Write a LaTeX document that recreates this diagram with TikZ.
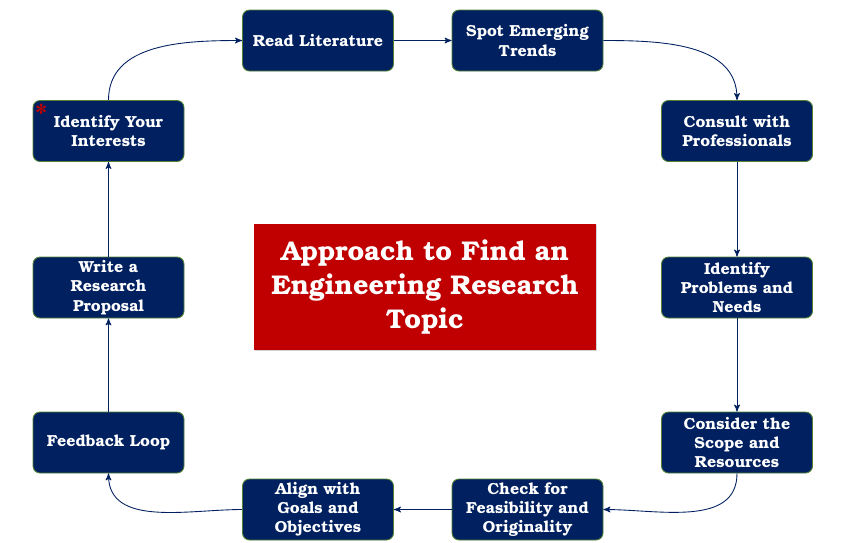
\documentclass[tikz,border=0pt]{standalone}
\usepackage{fontspec}
\setmainfont{texgyrebonum}[Extension=.otf,UprightFont=*-regular,BoldFont=*-bold]
\usepackage{xcolor}
\usetikzlibrary{arrows,positioning,shadows}

\definecolor{navy}{HTML}{002060}
\definecolor{edgegreen}{HTML}{548235}
\definecolor{titlered}{HTML}{C00000}

\tikzset{
  >=stealth',
  stepbox/.style={draw=edgegreen, line width=0.5pt, fill=navy, rounded corners=0.14cm,
    minimum width=3.02cm, minimum height=1.22cm, align=center, text=white,
    font=\fontsize{9.1}{10.9}\selectfont\bfseries, inner sep=1pt},
  link/.style={->, draw=navy, line width=0.5pt}
}

\begin{document}
\begin{tikzpicture}
\useasboundingbox (0,0) rectangle (17,-10.84);
% title
\node [fill=titlered, minimum width=6.84cm, minimum height=2.52cm, align=center, text=white,
  font=\fontsize{15.4}{19.6}\selectfont\bfseries,
  drop shadow={opacity=0.35, shadow xshift=0.5pt, shadow yshift=-0.8pt}]
  (title) at (8.5,-5.74) {Approach to Find an\\Engineering Research\\Topic};

% steps
\node [stepbox] (interests) at (2.17,-2.62) {Identify Your\\Interests};
\node [stepbox] (literature) at (6.36,-0.81) {Read Literature};
\node [stepbox] (trends) at (10.55,-0.81) {Spot Emerging\\Trends};
\node [stepbox] (consult) at (14.74,-2.62) {Consult with\\Professionals};
\node [stepbox] (problems) at (14.74,-5.75) {Identify\\Problems and\\Needs};
\node [stepbox] (scope) at (14.74,-8.85) {Consider the\\Scope and\\Resources};
\node [stepbox] (check) at (10.55,-10.19) {Check for\\Feasibility and\\Originality};
\node [stepbox] (align) at (6.36,-10.19) {Align with\\Goals and\\Objectives};
\node [stepbox] (feedback) at (2.17,-8.85) {Feedback Loop};
\node [stepbox] (proposal) at (2.17,-5.75) {Write a\\Research\\Proposal};

\node [text=titlered, font=\fontsize{16}{16}\selectfont\bfseries, inner sep=0pt]
  (star) at ([xshift=0.17cm, yshift=-0.27cm]interests.north west) {*};

% connectors
\draw [link] (interests.north) to [out=90, in=180] (literature.west);
\draw [link] (literature) -- (trends);
\draw [link] (trends.east) to [out=0, in=90] (consult.north);
\draw [link] (consult) -- (problems);
\draw [link] (problems) -- (scope);
\draw [link] (scope.south) to [out=-90, in=0] (check.east);
\draw [link] (check) -- (align);
\draw [link] (align.west) to [out=180, in=-90] (feedback.south);
\draw [link] (feedback) -- (proposal);
\draw [link] (proposal) -- (interests);
\end{tikzpicture}
\end{document}
